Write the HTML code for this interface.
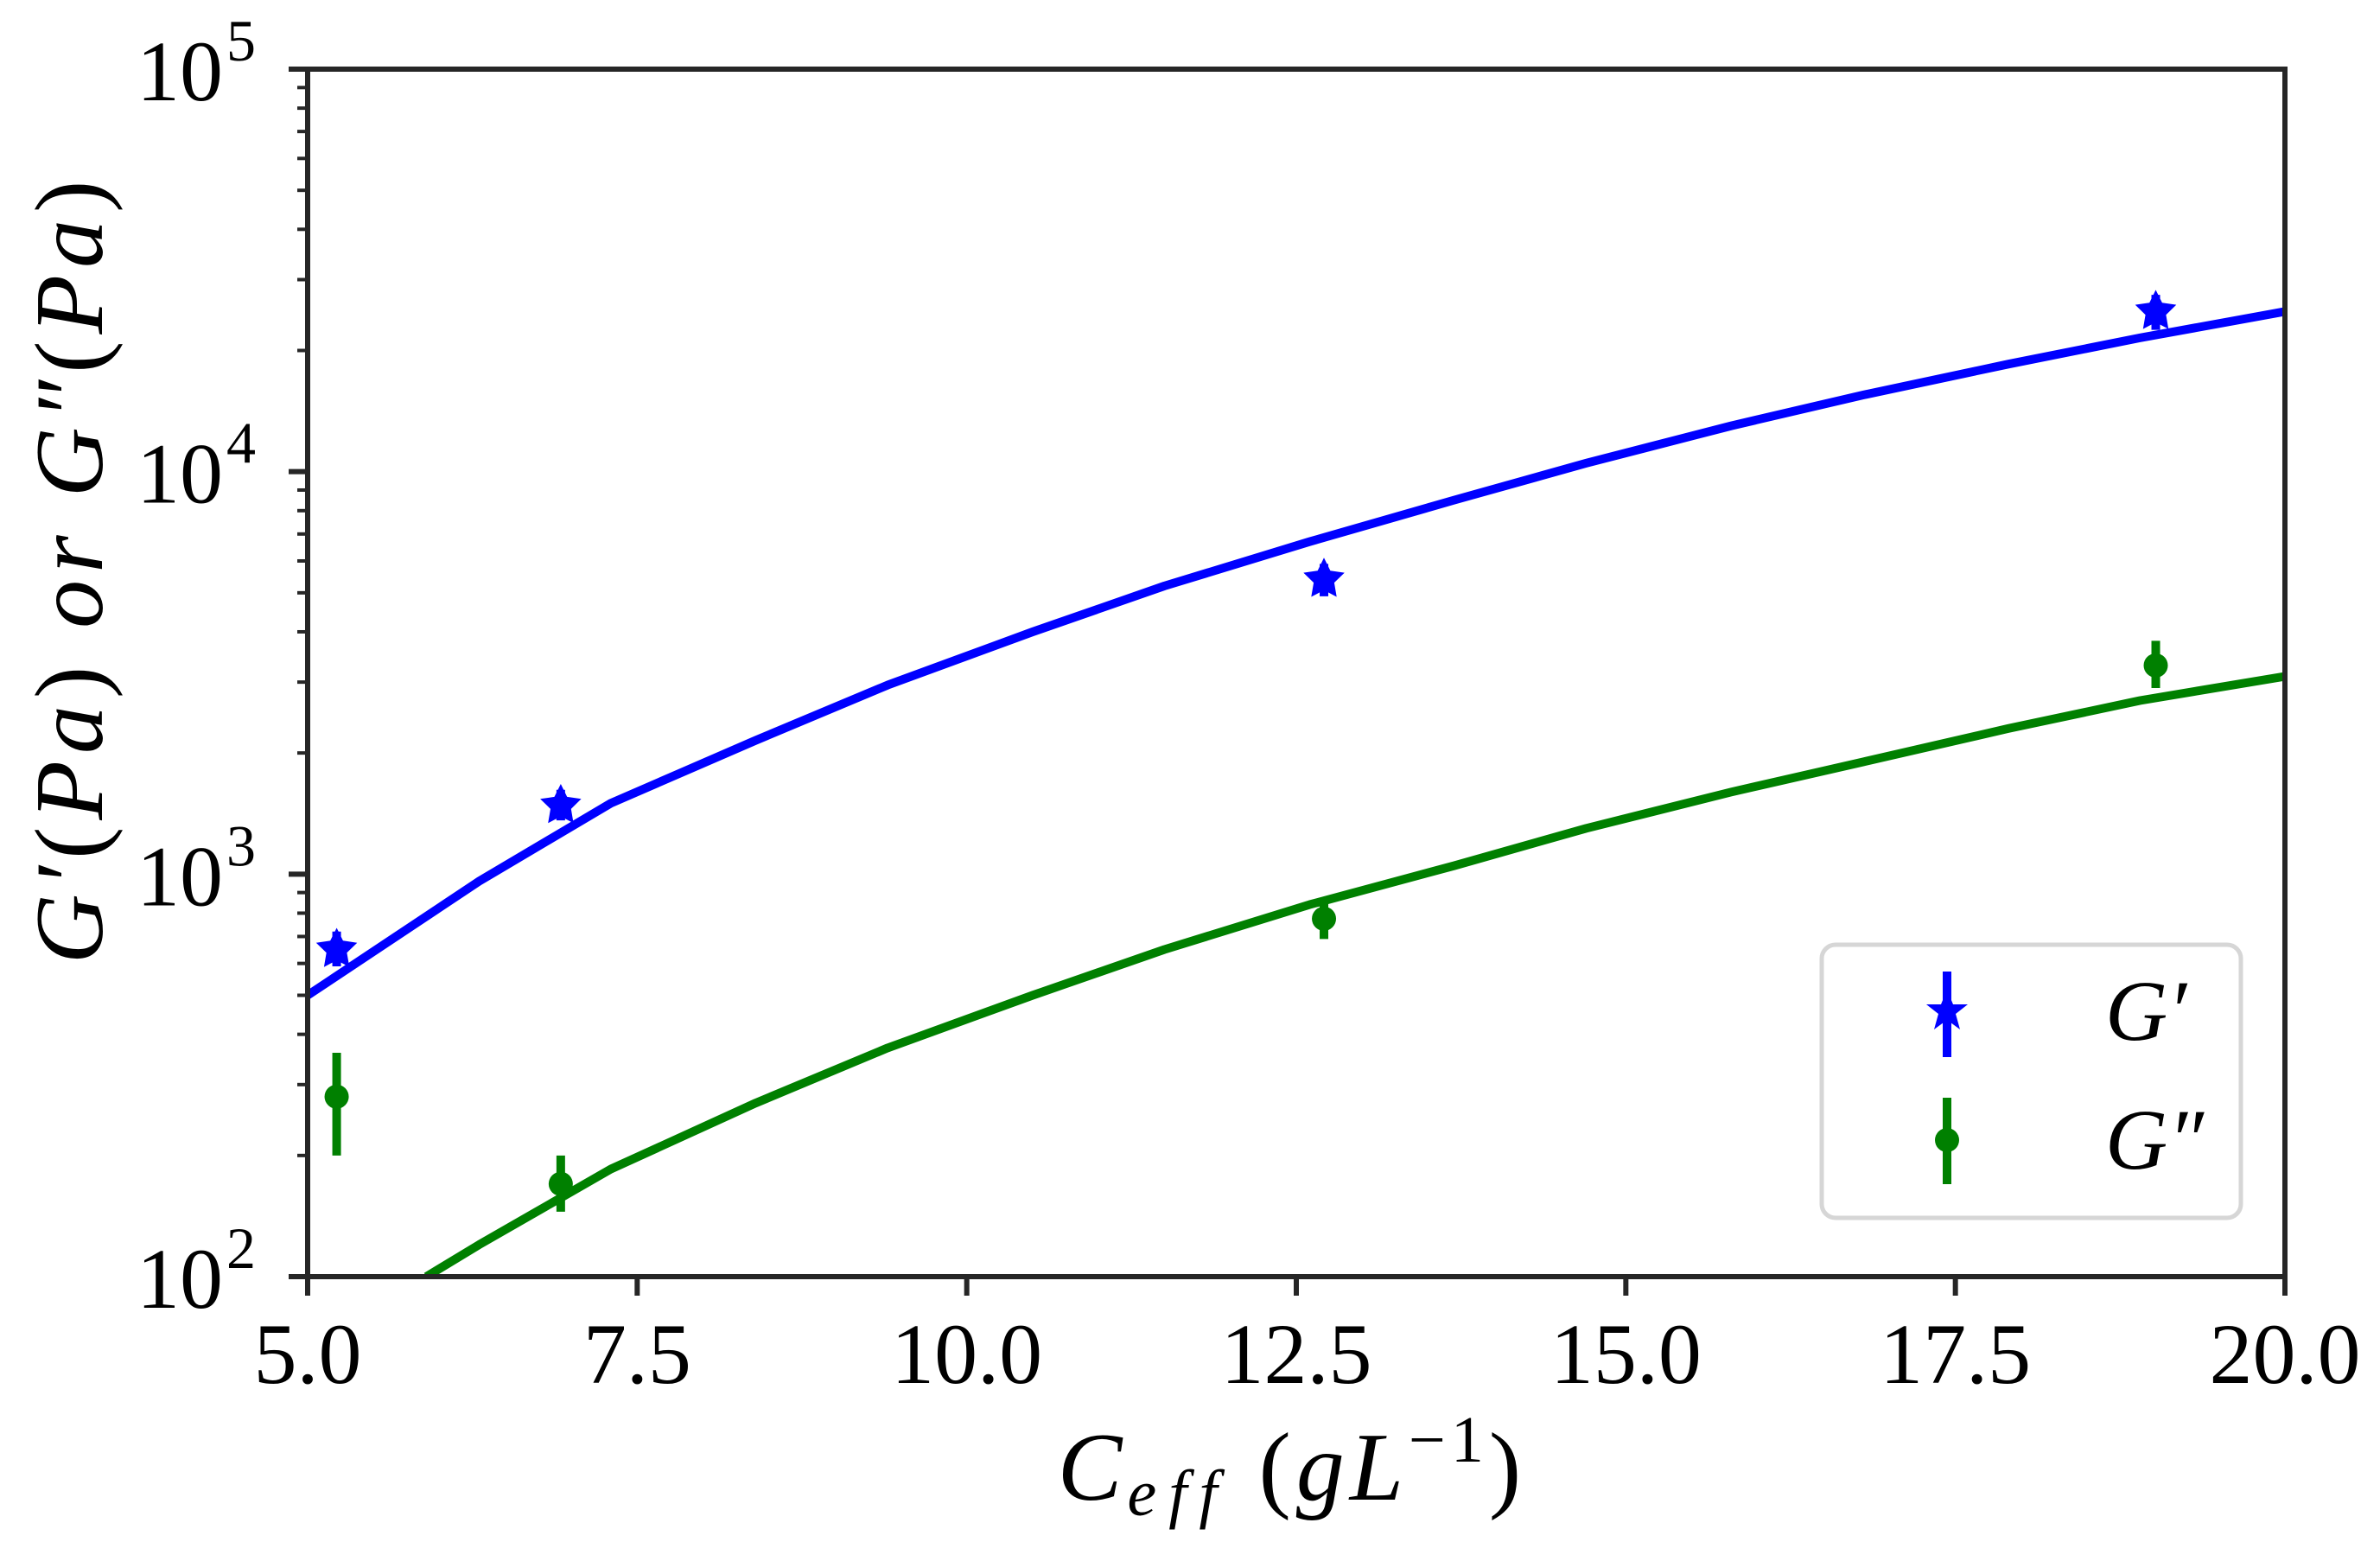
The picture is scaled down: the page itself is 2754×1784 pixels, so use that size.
<!DOCTYPE html>
<html><head><meta charset="utf-8"><style>
html,body{margin:0;padding:0;background:#fff;}
svg{display:block;font-family:"Liberation Serif",serif;}
</style></head><body>
<svg id="chart" width="2754" height="1784" viewBox="0 0 2754 1784" xmlns="http://www.w3.org/2000/svg">
<g id="plot"></g>
<g id="axes"></g>
<g>
  <rect x="2108" y="1093" width="485" height="316" rx="16" fill="#fff" fill-opacity="0.8" stroke="#d6d6d6" stroke-width="5"/>
  <line x1="2253" y1="1124" x2="2253" y2="1223" stroke="#0000ff" stroke-width="10"/>
  <polygon points="2253,1145 2260,1162 2277,1162 2263,1173 2268,1191 2253,1180 2238,1191 2243,1173 2229,1162 2246,1162" fill="#0000ff"/>
  <text x="2436" y="1203" font-size="100" font-style="italic">G′</text>
  <line x1="2253" y1="1270" x2="2253" y2="1370" stroke="#008000" stroke-width="10"/>
  <circle cx="2253" cy="1319" r="14" fill="#008000"/>
  <text x="2436" y="1352" font-size="100" font-style="italic">G″</text>
</g>
<text x="1495" y="1735" font-size="112" text-anchor="middle" font-style="italic" letter-spacing="6">C<tspan font-size="76" dy="18" letter-spacing="14">eff</tspan><tspan dy="-18" font-style="normal">  (</tspan>gL<tspan font-size="76" dy="-44" font-style="normal">−1</tspan><tspan dy="44" font-style="normal">)</tspan></text>
<text transform="translate(118,658) rotate(-90)" font-size="112" text-anchor="middle" font-style="italic" letter-spacing="8">G′<tspan font-style="normal">(</tspan>Pa<tspan font-style="normal">)</tspan>  or  G″<tspan font-style="normal">(</tspan>Pa<tspan font-style="normal">)</tspan></text>
</svg>
<script>
const xTicks = [5.0, 7.5, 10.0, 12.5, 15.0, 17.5, 20.0];
const xTickLabels = ["5.0","7.5","10.0","12.5","15.0","17.5","20.0"];
const yDecades = [2, 3, 4, 5];
const yTickLabels = ["2","3","4","5"];
const ptX = [5.22, 6.92, 12.71, 19.02];
const gpVals = [650, 1480, 5400, 25000];
const gpLo = [590, 1360, 4900, 22500];
const gpHi = [720, 1620, 5900, 27500];
const gppVals = [280, 170, 775, 3300];
const gppLo = [200, 145, 690, 2900];
const gppHi = [360, 200, 870, 3800];
const fitX = [5.0, 6.3, 7.3, 8.4, 9.4, 10.5, 11.5, 12.6, 13.7, 14.7, 15.8, 16.8, 17.9, 18.9, 20.0];
const fitGp = [500, 960, 1500, 2150, 2950, 4000, 5200, 6700, 8500, 10500, 13000, 15500, 18500, 21500, 25000];
const fitGppX = [5.9, 6.3, 7.3, 8.4, 9.4, 10.5, 11.5, 12.6, 13.7, 14.7, 15.8, 16.8, 17.9, 18.9, 20.0];
const fitGpp = [100, 120, 185, 270, 370, 500, 650, 840, 1050, 1300, 1600, 1900, 2300, 2700, 3100];

const L=356,R=2644,T=80,B=1477;
const xs = v => L + (v-5)/(20-5)*(R-L);
const ys = v => B - (Math.log10(v)-2)/3*(B-T);
const NS="http://www.w3.org/2000/svg";
function mk(tag, attrs, parent){const e=document.createElementNS(NS,tag);for(const k in attrs)e.setAttribute(k,attrs[k]);parent.appendChild(e);return e;}
const plot=document.getElementById('plot'), axes=document.getElementById('axes');
const defs=mk('defs',{},plot);
const cp=mk('clipPath',{id:'clip'},defs);
mk('rect',{x:L,y:T,width:R-L,height:B-T},cp);

function line(xa, ya, color, name){
  const d = xa.map((x,i)=>(i?'L':'M')+xs(x).toFixed(1)+','+ys(ya[i]).toFixed(1)).join(' ');
  const p=mk('path',{d:d,fill:'none',stroke:color,'stroke-width':10,'stroke-linejoin':'round','clip-path':'url(#clip)'},plot);
  
  
}
line(fitX, fitGp, '#0000ff', 'fit-line-g-prime');
line(fitGppX, fitGpp, '#008000', 'fit-line-g-double-prime');

function star(cx,cy,r){let pts=[];for(let i=0;i<10;i++){const a=-Math.PI/2+i*Math.PI/5;const rr=i%2?r*0.5:r;pts.push((cx+rr*Math.cos(a)).toFixed(1)+','+(cy+rr*Math.sin(a)).toFixed(1));}return pts.join(' ');}
ptX.forEach((x,i)=>{
  const cx=xs(x);
  const e1=mk('line',{x1:cx,x2:cx,y1:ys(gpHi[i]),y2:ys(gpLo[i]),stroke:'#0000ff','stroke-width':10},plot);
  
  
  const s=mk('polygon',{points:star(cx,ys(gpVals[i]),25),fill:'#0000ff'},plot);
  
  
  const e2=mk('line',{x1:cx,x2:cx,y1:ys(gppHi[i]),y2:ys(gppLo[i]),stroke:'#008000','stroke-width':10},plot);
  
  
  const c=mk('circle',{cx:cx,cy:ys(gppVals[i]),r:14,fill:'#008000'},plot);
  
  
});

const fr=mk('rect',{x:L,y:T,width:R-L,height:B-T,fill:'none',stroke:'#262626','stroke-width':6},axes);


xTicks.forEach((v,i)=>{
  const x=xs(v);
  const t=mk('line',{x1:x,x2:x,y1:B,y2:B+22,stroke:'#262626','stroke-width':6},axes);
  
  
  const tx=mk('text',{x:x,y:1600,'font-size':100,'text-anchor':'middle'},axes);
  tx.textContent=xTickLabels[i];
  
  
});
yDecades.forEach((d,i)=>{
  const y=ys(Math.pow(10,d));
  const t=mk('line',{x1:L-22,x2:L,y1:y,y2:y,stroke:'#262626','stroke-width':6},axes);
  
  
  const tx=mk('text',{x:258,y:y+36,'font-size':100,'text-anchor':'end'},axes);
  tx.textContent='10';
  
  
  const sp=mk('text',{x:262,y:y-10,'font-size':68},axes);
  sp.textContent=yTickLabels[i];
  
  
  if(d<5){for(let m=2;m<=9;m++){const ym=ys(m*Math.pow(10,d));
    const mt=mk('line',{x1:L-12,x2:L,y1:ym,y2:ym,stroke:'#262626','stroke-width':4},axes);
    
    }}
});
</script>
</body></html>
